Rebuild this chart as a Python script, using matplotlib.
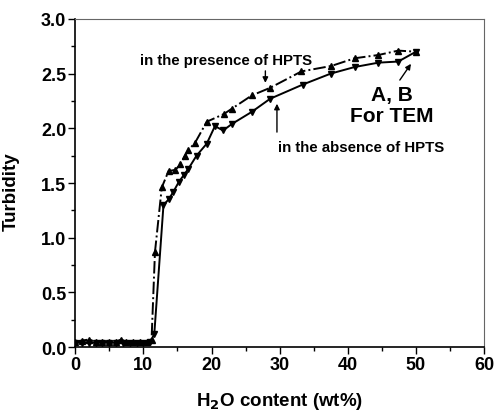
import numpy as np
import matplotlib
matplotlib.use("Agg")
import matplotlib.pyplot as plt

plt.rcParams['font.family'] = ['Liberation Sans', 'DejaVu Sans']
plt.rcParams['font.weight'] = 'bold'

# in the presence of HPTS (up triangles, dash-dot)
x_pres = [0, 1, 2, 3, 4, 5, 6, 6.7, 7.5, 8.5, 9.5, 10.5, 11.2, 11.7,
          12.7, 13.7, 14.7, 15.4, 16.1, 16.6, 17.6, 19.3, 21.8, 23,
          25.9, 28.6, 33.2, 37.6, 41, 44.5, 47.4, 50]
y_pres = [0.05, 0.06, 0.07, 0.05, 0.05, 0.05, 0.05, 0.07, 0.05, 0.05, 0.05,
          0.05, 0.07, 0.87, 1.46, 1.61, 1.62, 1.67, 1.75, 1.80, 1.87, 2.06,
          2.13, 2.18, 2.30, 2.37, 2.52, 2.57, 2.64, 2.67, 2.71, 2.70]

# in the absence of HPTS (down triangles, solid)
x_abs = [0, 1, 2, 3, 4, 5, 6, 7, 8, 9, 10, 11, 11.6, 12.95, 13.7, 14.4,
         15.2, 15.9, 16.6, 17.8, 19.3, 20.5, 21.7, 23, 25.9, 28.6, 33.4,
         37.5, 41, 44.5, 47.4, 50]
y_abs = [0.04, 0.04, 0.04, 0.04, 0.04, 0.04, 0.04, 0.04, 0.04, 0.04, 0.04,
         0.05, 0.12, 1.30, 1.35, 1.42, 1.51, 1.57, 1.63, 1.75, 1.86, 2.02,
         1.98, 2.04, 2.15, 2.27, 2.40, 2.50, 2.56, 2.60, 2.61, 2.70]

x_ticks = np.arange(0, 61, 10)
y_ticks = np.arange(0, 3.01, 0.5)

fig = plt.figure(figsize=(4.95, 4.14), dpi=100)
ax = fig.add_axes([0.152, 0.159, 0.826, 0.793])

ax.plot(x_pres, y_pres, color='black', linestyle='-.', linewidth=1.4,
        marker='^', markersize=5)
ax.plot(x_abs, y_abs, color='black', linestyle='-', linewidth=1.4,
        marker='v', markersize=5)

ax.set_xlim(0, 60)
ax.set_ylim(0, 3.0)
ax.set_xticks(x_ticks)
ax.set_xticks(np.arange(5, 60, 10), minor=True)
ax.set_xticklabels([str(v) for v in x_ticks])
ax.set_yticks(y_ticks)
ax.set_yticks(np.arange(0.25, 3.0, 0.5), minor=True)
ax.set_yticklabels(['%.1f' % v for v in y_ticks])
ax.tick_params(which='major', direction='out', length=5, width=1,
               labelsize=13, pad=1.5)
ax.tick_params(which='minor', direction='out', length=3, width=1)
for s in ['top', 'right']:
    ax.spines[s].set_color('#666666')
for s in ['left', 'bottom']:
    ax.spines[s].set_linewidth(1.2)

ax.set_xlabel('H$_2$O content (wt%)', fontsize=13.5, fontweight='bold',
              labelpad=12)
ax.set_ylabel('Turbidity', fontsize=13.5, fontweight='bold')
ax.yaxis.set_label_coords(-0.135, 0.476)

arrow = dict(arrowstyle='-|>', color='black', lw=1, mutation_scale=8)
ax.text(22.2, 2.62, 'in the presence of HPTS', fontsize=10.8,
        fontweight='bold', ha='center', va='center')
ax.annotate('', xy=(27.9, 2.39), xytext=(27.9, 2.55), arrowprops=arrow)
ax.text(41.9, 1.83, 'in the absence of HPTS', fontsize=10.8,
        fontweight='bold', ha='center', va='center')
ax.annotate('', xy=(29.6, 2.25), xytext=(29.6, 1.94), arrowprops=arrow)
ax.annotate('', xy=(49.5, 2.61), xytext=(47.4, 2.42), arrowprops=arrow)
ax.text(46.5, 2.21, 'A, B\nFor TEM', fontsize=15, fontweight='bold',
        ha='center', va='center', linespacing=1.15)

fig.savefig('out.png', dpi=100)
